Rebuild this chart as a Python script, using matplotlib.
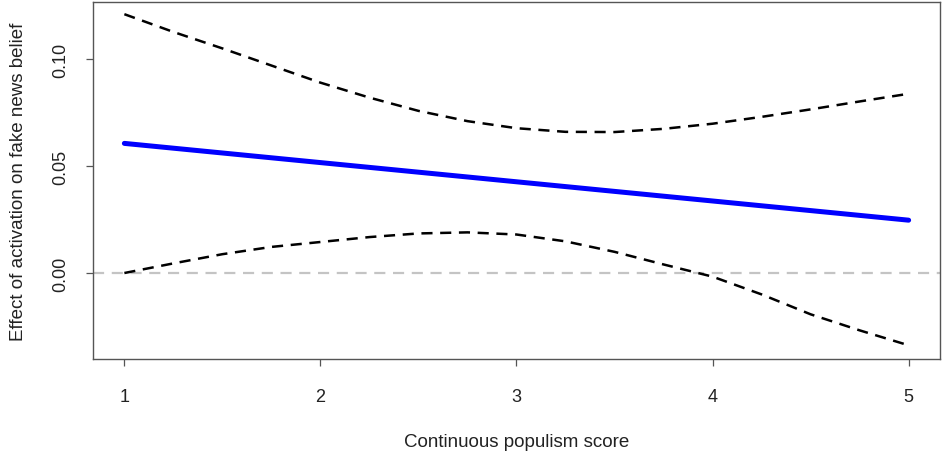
import matplotlib
matplotlib.use("Agg")
import matplotlib.pyplot as plt

plt.rcParams['font.family'] = ['Liberation Sans', 'DejaVu Sans']
plt.rcParams['lines.scale_dashes'] = False

# Data
populism = [1.0, 1.25, 1.5, 1.75, 2.0, 2.25, 2.5, 2.75, 3.0, 3.25, 3.5,
            3.75, 4.0, 4.25, 4.5, 4.75, 5.0]
upper_ci = [0.1210, 0.1127, 0.1050, 0.0970, 0.0890, 0.0820, 0.0758, 0.0710,
            0.0677, 0.0660, 0.0659, 0.0674, 0.0698, 0.0730, 0.0765, 0.0802,
            0.0838]
lower_ci = [0.0000, 0.0045, 0.0088, 0.0122, 0.0145, 0.0168, 0.0185, 0.0190,
            0.0180, 0.0148, 0.0099, 0.0040, -0.0017, -0.0100, -0.0193,
            -0.0268, -0.0338]
effect_x = [1.0, 5.0]
effect_y = [0.0606, 0.0247]

x_ticks = [1, 2, 3, 4, 5]
y_ticks = [0.00, 0.05, 0.10]
y_tick_labels = ["0.00", "0.05", "0.10"]

W, H = 943, 456
fig = plt.figure(figsize=(W / 100, H / 100), dpi=100)
ax = fig.add_axes([93 / W, (H - 360) / H, (940 - 93) / W, (360 - 3) / H])

ax.axhline(0, color='#c4c4c4', lw=1.6, dashes=(8, 5.5), zorder=1)
ax.plot(populism, upper_ci, color='black', lw=1.8, dashes=(8, 5.5), zorder=2)
ax.plot(populism, lower_ci, color='black', lw=1.8, dashes=(8, 5.5), zorder=2)
ax.plot(effect_x, effect_y, color='#0000ff', lw=3.6, solid_capstyle='round', zorder=3)

ax.set_xlim(0.84, 5.16)
ax.set_ylim(-0.0402, 0.1267)

ax.set_xticks(x_ticks)
ax.set_xticklabels([str(t) for t in x_ticks])
ax.set_yticks(y_ticks)
ax.set_yticklabels(y_tick_labels, rotation=90, va='center')

for s in ax.spines.values():
    s.set_color('#555555')
    s.set_linewidth(1.0)

ax.tick_params(axis='both', length=5, width=0.9, color='#555555',
               labelsize=13, labelcolor='#222222')
ax.tick_params(axis='x', pad=16)
ax.tick_params(axis='y', pad=11.8)

ax.set_xlabel("Continuous populism score", fontsize=13.5, color='#222222', labelpad=20)
ax.set_ylabel("Effect of activation on fake news belief", fontsize=13.5, color='#222222', labelpad=18.8)

fig.savefig("out.png", dpi=100)
